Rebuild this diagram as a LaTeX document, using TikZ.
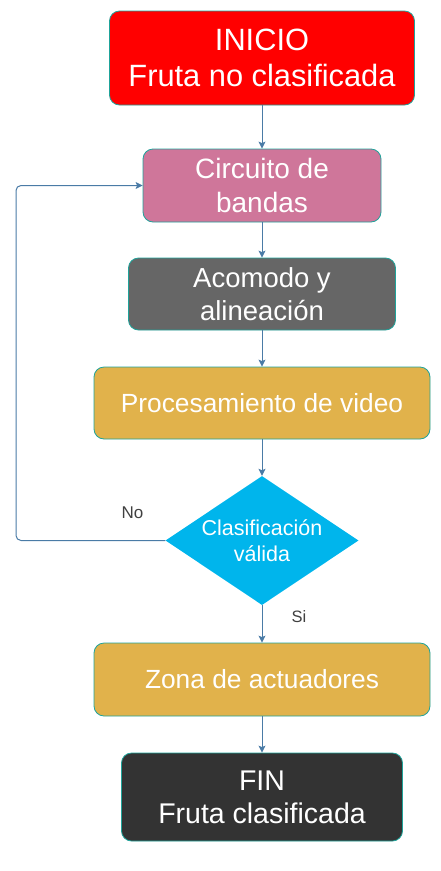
\documentclass[tikz,border=0pt]{standalone}
\usepackage{fontspec}
\setmainfont{Liberation Sans}
\usetikzlibrary{shapes.geometric,arrows.meta}
\definecolor{edge}{HTML}{1FA39A}
\definecolor{flow}{HTML}{4A7BA6}
\definecolor{inicio}{HTML}{FF0000}
\definecolor{banda}{HTML}{CF769A}
\definecolor{acomodo}{HTML}{666666}
\definecolor{oro}{HTML}{E1B24B}
\definecolor{celeste}{HTML}{00B5EC}
\definecolor{fin}{HTML}{333333}
\definecolor{etiq}{HTML}{404040}
\begin{document}
\begin{tikzpicture}[x=1pt, y=-1pt,
  caja/.style={draw=edge, line width=0.8pt, rounded corners=10pt, inner sep=0pt,
    align=center, text=white},
  flecha/.style={draw=flow, line width=1pt, -{Stealth[length=7pt,width=7pt,inset=1.5pt]}}]
\useasboundingbox (0,0) rectangle (441,871);
% cajas
\node[caja, fill=inicio, minimum width=305pt, minimum height=94pt,
  font=\fontsize{30.8}{36.5}\selectfont] (ini) at (262,58) {INICIO\\Fruta no clasificada};
\node[caja, fill=banda, minimum width=238pt, minimum height=73pt,
  font=\fontsize{28}{33.5}\selectfont] (cir) at (262,185.5) {Circuito de\\bandas};
\node[caja, fill=acomodo, minimum width=267pt, minimum height=72pt,
  font=\fontsize{27.5}{33}\selectfont] (aco) at (262,294) {Acomodo y\\alineación};
\node[caja, fill=oro, minimum width=336pt, minimum height=72pt,
  font=\fontsize{26.3}{31}\selectfont] (pro) at (262,403) {Procesamiento de video};
\node[diamond, fill=celeste, minimum width=193pt, minimum height=129pt, aspect=1.5,
  inner sep=0pt, align=center, text=white,
  font=\fontsize{21.5}{25.8}\selectfont] (dia) at (262,540.5) {Clasificación\\válida};
\node[caja, fill=oro, minimum width=336pt, minimum height=73pt,
  font=\fontsize{26.3}{31}\selectfont] (zon) at (262,679.5) {Zona de actuadores};
\node[caja, fill=fin, minimum width=281pt, minimum height=88pt,
  font=\fontsize{28.5}{33}\selectfont] (fin) at (262,797) {FIN\\Fruta clasificada};
% etiquetas
\node[text=etiq, font=\fontsize{17}{20}\selectfont] (no) at (132.5,513) {No};
\node[text=etiq, font=\fontsize{16.5}{20}\selectfont] (si) at (299,617) {Si};
% flechas
\foreach \a/\b in {ini/cir,cir/aco,aco/pro,pro/dia,dia/zon,zon/fin}
  \draw[flecha] (\a) -- (\b);
\coordinate (vuelta) at (16,540.5);
\draw[flecha, rounded corners=5pt] (dia.west) -- (vuelta) |- (cir.west);
\end{tikzpicture}
\end{document}
